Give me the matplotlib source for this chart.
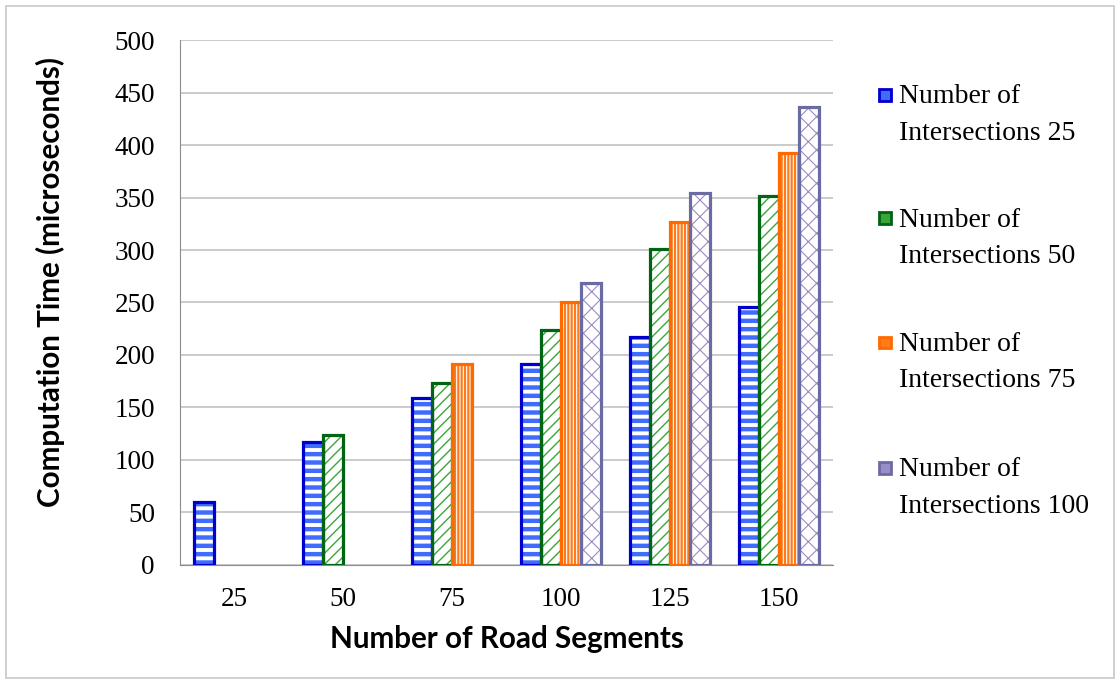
import numpy as np
import matplotlib
matplotlib.use("Agg")
import matplotlib.pyplot as plt
from matplotlib.patches import Rectangle

# data
segments = ["25", "50", "75", "100", "125", "150"]
series_names = ["Number of\nIntersections 25", "Number of\nIntersections 50",
                "Number of\nIntersections 75", "Number of\nIntersections 100"]
inter25 = [60, 117, 159, 191, 217, 246]
inter50 = [np.nan, 124, 173, 224, 301, 351]
inter75 = [np.nan, np.nan, 191, 250, 327, 392]
inter100 = [np.nan, np.nan, np.nan, 269, 354, 436]

edge_colors = ["#0000CC", "#006414", "#FF6A00", "#6B6BA3"]
hatch_colors = ["#3F6BFF", "#3AA63A", "#FF7A1A", "#9A8CC4"]
hatches = ["--", "///", "|||||", "xx"]
hatch_lw = [3.2, 1.0, 1.6, 0.8]

fig = plt.figure(figsize=(11.2, 6.84), dpi=100)
ax = fig.add_axes([0.1607, 0.174, 0.5831, 0.7675])

x = np.arange(len(segments))
w = 0.184
allseries = [inter25, inter50, inter75, inter100]
for i, vals in enumerate(allseries):
    pos = x - 1.5 * w + i * w
    plt.rcParams["hatch.linewidth"] = hatch_lw[i]
    ax.bar(pos, vals, w, facecolor="white", edgecolor=hatch_colors[i],
           hatch=hatches[i], linewidth=0, zorder=2)
    ax.bar(pos, vals, w, fill=False, edgecolor=edge_colors[i],
           linewidth=2.3, zorder=3)

ax.set_ylim(0, 500)
ax.set_xlim(-0.5, len(segments) - 0.5)
ax.set_yticks(np.arange(0, 501, 50))
ax.set_xticks(x)
ax.set_xticklabels(segments)
ax.yaxis.grid(True, color="#BDBDBD", linewidth=1.1, zorder=0)
ax.set_axisbelow(True)
for s in ["top", "right"]:
    ax.spines[s].set_visible(False)
ax.spines["left"].set_color("#8C8C8C")
ax.spines["bottom"].set_color("#8C8C8C")
ax.tick_params(length=0)
ax.tick_params(axis="y", pad=18)
ax.tick_params(axis="x", pad=16)
for lab in ax.get_xticklabels() + ax.get_yticklabels():
    lab.set_family("Liberation Serif")
    lab.set_fontsize(19.5)

ax.set_xlabel("Number of Road Segments", family="Lato", fontweight="bold",
              fontsize=21.3)
ax.set_ylabel("Computation Time (microseconds)", family="Lato",
              fontweight="bold", fontsize=21.3)
ax.xaxis.set_label_coords(0.5, -0.114)
ax.yaxis.set_label_coords(-0.176, 0.539)

# legend drawn by hand: small square next to the first line of each label
leg_y = [0.861, 0.681, 0.499, 0.316]
for i, name in enumerate(series_names):
    fig.add_artist(Rectangle((0.785, leg_y[i] - 0.0085), 0.0105, 0.0175,
                             transform=fig.transFigure, facecolor=hatch_colors[i],
                             edgecolor=edge_colors[i], linewidth=2))
    fig.text(0.8025, leg_y[i] + 0.0155, name, family="Liberation Serif",
             fontsize=20, va="top", ha="left", linespacing=1.6)

fig.add_artist(Rectangle((0.0054, 0.0088), 0.989, 0.982, transform=fig.transFigure,
                         fill=False, edgecolor="#C8C8C8", linewidth=1.2))

fig.savefig("out.png", dpi=100)
